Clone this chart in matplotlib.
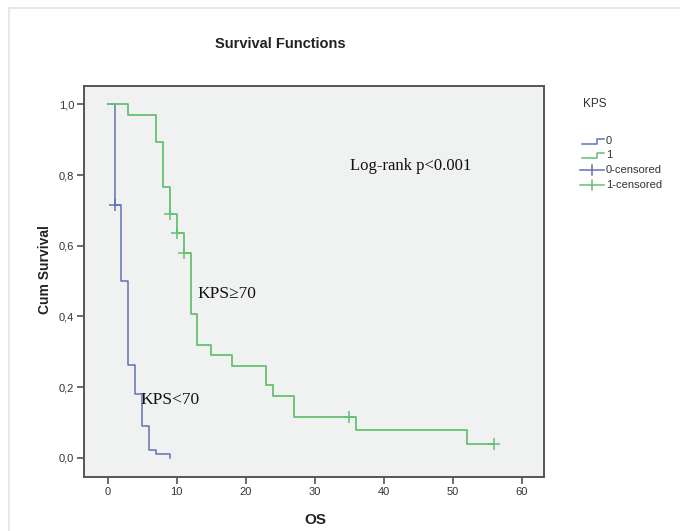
import matplotlib
matplotlib.use("Agg")
import matplotlib.pyplot as plt
from matplotlib.lines import Line2D
from matplotlib.ticker import FuncFormatter

# ── data ──────────────────────────────────────────────────────────────────────
kps_low_t    = [0, 1, 2, 3, 4, 5, 6, 7, 9]
kps_low_s    = [1.0, 0.714, 0.500, 0.262, 0.181, 0.091, 0.023, 0.011, 0.0]
kps_low_cens_t = [1]
kps_low_cens_s = [0.714]

kps_high_t   = [0, 3, 7, 8, 9, 10, 11, 12, 13, 15, 18, 23, 24, 27, 36, 52, 56]
kps_high_s   = [1.0, 0.971, 0.894, 0.767, 0.689, 0.635, 0.580, 0.406, 0.320,
                0.290, 0.260, 0.205, 0.175, 0.117, 0.078, 0.039, 0.039]
kps_high_cens_t = [9, 10, 11, 35, 56]
kps_high_cens_s = [0.689, 0.635, 0.580, 0.117, 0.039]

x_ticks = [0, 10, 20, 30, 40, 50, 60]
y_ticks = [0.0, 0.2, 0.4, 0.6, 0.8, 1.0]
legend_labels = ["0", "1", "0-censored", "1-censored"]

BLUE  = "#6271b6"
GREEN = "#66c070"
W, H = 680, 531

def fx(px):  # pixel x -> figure fraction
    return px / W

def fy(py):  # pixel y (from top) -> figure fraction
    return 1 - py / H

plt.rcParams["font.family"] = ["Liberation Sans", "DejaVu Sans"]

fig = plt.figure(figsize=(W / 100, H / 100), dpi=100, facecolor="white")

# faint outer frame like the SPSS viewer
fig.add_artist(Line2D([fx(9), fx(9)], [0, fy(8)], color="#e4e4e4", lw=1.2))
fig.add_artist(Line2D([fx(9), 1], [fy(8), fy(8)], color="#e4e4e4", lw=1.2))

ax = fig.add_axes([fx(84), fy(477), fx(544) - fx(84), fy(86) - fy(477)])
ax.set_facecolor("#f0f1f1")

ax.step(kps_low_t, kps_low_s, where="post", color=BLUE, lw=1.1)
ax.step(kps_high_t, kps_high_s, where="post", color=GREEN, lw=1.3)
ax.plot(kps_low_cens_t, kps_low_cens_s, ls="none", marker="+", ms=8,
        mew=1.1, color=BLUE)
ax.plot(kps_high_cens_t, kps_high_cens_s, ls="none", marker="+", ms=8,
        mew=1.1, color=GREEN)

ax.set_xlim(-3.43, 63.2)
ax.set_ylim(-0.054, 1.052)
ax.set_xticks(x_ticks)
ax.set_yticks(y_ticks)
ax.yaxis.set_major_formatter(FuncFormatter(lambda v, p: f"{v:.1f}".replace(".", ",")))
ax.tick_params(length=5, width=1.1, color="#444444", labelsize=8,
               labelcolor="#333333", pad=2)
for sp in ax.spines.values():
    sp.set_color("#555555")
    sp.set_linewidth(1.4)

# annotations (serif, as in the source)
serif = ["Liberation Serif", "DejaVu Serif"]
ax.text(35.1, 0.825, "Log-rank p<0.001", family=serif, fontsize=12,
        va="center", ha="left", color="#111111")
ax.text(13.0, 0.464, "KPS\u226570", family=serif, fontsize=12.5,
        va="center", ha="left", color="#111111")
ax.text(4.8, 0.164, "KPS<70", family=serif, fontsize=12.5,
        va="center", ha="left", color="#111111")

# titles
fig.text(fx(280), fy(43.5), "Survival Functions", ha="center", va="center",
         fontsize=10.5, fontweight="bold", color="#222222")
fig.text(fx(45), fy(270), "Cum Survival", ha="center", va="center",
         rotation=90, fontsize=10, fontweight="bold", color="#222222")
fig.text(fx(315), fy(520), "OS", ha="center", va="center",
         fontsize=11, fontweight="bold", color="#222222")

# ── legend drawn by hand ──────────────────────────────────────────────────────
fig.text(fx(583), fy(104), "KPS", ha="left", va="center", fontsize=8.5,
         color="#333333")
leg_y = [141, 155, 170, 185]
for lab, y, col, kind in zip(legend_labels, leg_y,
                             [BLUE, GREEN, BLUE, GREEN],
                             ["step", "step", "cens", "cens"]):
    if kind == "step":
        xs = [fx(582), fx(597), fx(597), fx(604)]
        ys = [fy(y + 2.5), fy(y + 2.5), fy(y - 2.5), fy(y - 2.5)]
        fig.add_artist(Line2D(xs, ys, color=col, lw=1.1))
    else:
        fig.add_artist(Line2D([fx(580), fx(604)], [fy(y), fy(y)], color=col, lw=1.1))
        fig.add_artist(Line2D([fx(592), fx(592)], [fy(y - 5), fy(y + 5)],
                              color=col, lw=1.1))
    fig.text(fx(606), fy(y), lab, ha="left", va="center", fontsize=8,
             color="#333333")

fig.savefig("out.png", dpi=100, facecolor="white")
